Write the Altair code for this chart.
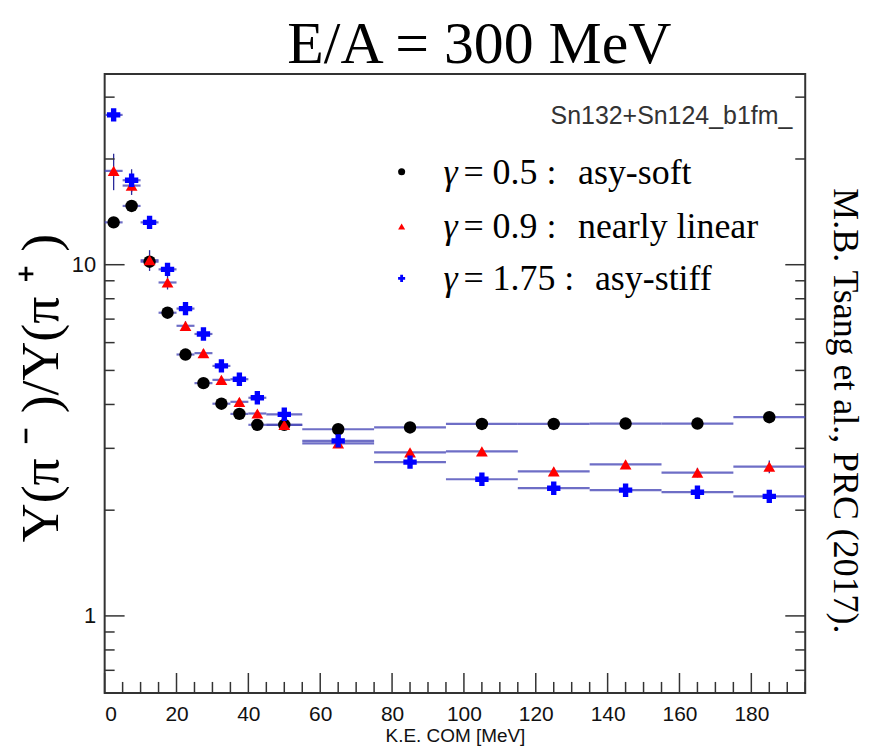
import altair as alt
import pandas as pd

# ---- data ----
bin_lo = [0, 5, 10, 15, 20, 25, 30, 35, 40, 45, 55, 75, 95, 115, 135, 155, 175]
bin_hi = [5, 10, 15, 20, 25, 30, 35, 40, 45, 55, 75, 95, 115, 135, 155, 175, 195]
ke = [2.5, 7.5, 12.5, 17.5, 22.5, 27.5, 32.5, 37.5, 42.5, 50, 65, 85, 105, 125, 145, 165, 185]

soft = [13.2, 14.7, 10.2, 7.3, 5.55, 4.6, 4.02, 3.76, 3.5, 3.5, 3.4, 3.44, 3.52, 3.52, 3.53, 3.53, 3.68]
linear = [18.5, 16.8, 10.3, 8.9, 6.7, 5.6, 4.7, 4.07, 3.77, 3.5, 3.1, 2.92, 2.94, 2.58, 2.7, 2.56, 2.66]
stiff = [26.7, 17.4, 13.2, 9.7, 7.5, 6.35, 5.15, 4.72, 4.18, 3.75, 3.15, 2.74, 2.45, 2.31, 2.28, 2.25, 2.19]

soft_err = [0.35, 0.4, 0.3, 0.2, 0.12, 0.1, 0.08, 0.07, 0.06, 0.05, 0.04, 0.04, 0.04, 0.05, 0.05, 0.05, 0.06]
linear_err = [2.2, 1.0, 0.7, 0.4, 0.2, 0.15, 0.12, 0.1, 0.08, 0.06, 0.05, 0.05, 0.06, 0.06, 0.07, 0.08, 0.11]
stiff_err = [0.6, 1.3, 0.4, 0.3, 0.2, 0.15, 0.12, 0.1, 0.08, 0.06, 0.05, 0.05, 0.04, 0.05, 0.05, 0.05, 0.06]

series_names = ["soft", "linear", "stiff"]
legend_gamma = ["=\u00a00.5\u00a0:", "=\u00a00.9\u00a0:", "=\u00a01.75\u00a0:"]
legend_desc = ["asy-soft", "nearly linear", "asy-stiff"]
header_text = "Sn132+Sn124_b1fm_"
title_text = "E/A = 300 MeV"
ylabel_text = "Y(\u03c0\u00a0\u207b\u00a0)/Y(\u03c0\u00a0\u207a\u00a0)"
xlabel_text = "K.E. COM [MeV]"
cite_text = "M.B. Tsang et al., PRC (2017)."

x_tick_labels = [0, 20, 40, 60, 80, 100, 120, 140, 160, 180]
y_tick_labels = [1, 10]
x_minor = list(range(0, 196, 5))
y_minor = [0.7, 0.8, 0.9, 2, 3, 4, 5, 6, 7, 8, 9, 20, 30]

colors = {"soft": "#000000", "linear": "#ff0000", "stiff": "#0000ff"}
shapes = {"soft": "circle", "linear": "triangle-up", "stiff": "cross"}
sizes = {"soft": 155, "linear": 140, "stiff": 180}

W, H = 703, 621

rows = []
for name, vals, errs in [("soft", soft, soft_err), ("linear", linear, linear_err), ("stiff", stiff, stiff_err)]:
    for lo, hi, k, v, e in zip(bin_lo, bin_hi, ke, vals, errs):
        rows.append(dict(series=name, lo=lo, hi=hi, ke=k, y=v, ylo=v - e, yhi=v + e))
df = pd.DataFrame(rows)

xscale = alt.Scale(domain=[0, 195], nice=False, zero=False)
yscale = alt.Scale(type="log", domain=[0.6036, 34.9], nice=False)

xaxis = alt.Axis(values=x_tick_labels, title=xlabel_text, ticks=False, domain=False, grid=False,
                 labelFont="Liberation Sans", labelFontSize=21, labelPadding=11,
                 titleFont="Liberation Sans", titleFontSize=19, titleFontWeight="normal",
                 titlePadding=2, labelColor="#111", titleColor="#111")
yaxis = alt.Axis(values=y_tick_labels, title=None, ticks=False, domain=False, grid=False,
                 labelFont="Liberation Sans", labelFontSize=22, labelPadding=9,
                 labelColor="#111", format="d")

base = alt.Chart(df)

hbars = base.mark_rule(color="#4a4ab8", opacity=0.8, strokeWidth=2.2).encode(
    x=alt.X("lo:Q", scale=xscale, axis=xaxis),
    x2="hi:Q",
    y=alt.Y("y:Q", scale=yscale, axis=yaxis),
)
vbars = base.mark_rule(color="#2a2a9a", strokeWidth=1.3).encode(
    x=alt.X("ke:Q", scale=xscale),
    y=alt.Y("ylo:Q", scale=yscale),
    y2="yhi:Q",
)

point_layers = []
for name in series_names:
    point_layers.append(
        alt.Chart(df[df.series == name]).mark_point(
            filled=True, opacity=1, shape=shapes[name], size=sizes[name], color=colors[name]
        ).encode(x=alt.X("ke:Q", scale=xscale), y=alt.Y("y:Q", scale=yscale))
    )

tick_col = "#333333"
xt = pd.DataFrame({"v": x_minor})
xt["major"] = xt["v"] % 20 == 0
xt_major = xt[xt.major]
xt_minor = xt[~xt.major]
yt_major = pd.DataFrame({"v": y_tick_labels})
yt_minor = pd.DataFrame({"v": y_minor})

def xticks(d, length):
    return alt.Chart(d).mark_rule(color=tick_col, strokeWidth=1.5).encode(
        x=alt.X("v:Q", scale=xscale), y=alt.value(H), y2=alt.value(H - length))

def yticks(d, length, right=False):
    if right:
        return alt.Chart(d).mark_rule(color=tick_col, strokeWidth=1.5).encode(
            y=alt.Y("v:Q", scale=yscale), x=alt.value(W), x2=alt.value(W - length))
    return alt.Chart(d).mark_rule(color=tick_col, strokeWidth=1.5).encode(
        y=alt.Y("v:Q", scale=yscale), x=alt.value(0), x2=alt.value(length))

tick_layers = [xticks(xt_major, 20), xticks(xt_minor, 11),
               yticks(yt_major, 20), yticks(yt_minor, 10),
               yticks(yt_major, 20, True), yticks(yt_minor, 10, True)]

def text_layer(t, x, y, size, font="Liberation Serif", align="left", angle=0, style="normal",
               baseline="alphabetic", color="#000"):
    kw = dict(font=font, fontSize=size, align=align, baseline=baseline, color=color, fontStyle=style)
    if angle:
        kw["angle"] = angle
    return alt.Chart(pd.DataFrame({"t": [t]})).mark_text(**kw).encode(
        text="t:N", x=alt.value(x), y=alt.value(y))

text_layers = [
    text_layer(title_text, 376, -11, 60, align="center"),
    text_layer(ylabel_text, -63, 315, 54, align="center", angle=270, baseline="middle"),
    text_layer(cite_text, 743, 338, 36, align="center", angle=90, baseline="middle"),
    text_layer(header_text, 690, 50, 25, font="Liberation Sans", align="right", color="#333"),
]

leg_y = [98, 153, 205]
desc_x = [475, 475, 492]
leg_layers = []
for i, name in enumerate(series_names):
    leg_layers.append(
        alt.Chart(pd.DataFrame({"t": [0]})).mark_point(
            filled=True, opacity=1, shape=shapes[name], size=50, color=colors[name]
        ).encode(x=alt.value(298), y=alt.value(leg_y[i]))
    )
    leg_layers.append(text_layer("\u03b3", 340, leg_y[i] + 12, 36, style="italic"))
    leg_layers.append(text_layer(legend_gamma[i], 360, leg_y[i] + 12, 36))
    leg_layers.append(text_layer(legend_desc[i], desc_x[i], leg_y[i] + 12, 36))

chart = alt.layer(hbars, vbars, *point_layers, *tick_layers, *text_layers, *leg_layers).properties(
    width=W, height=H,
    padding={"left": 97, "top": 65, "right": 62, "bottom": 58},
    autosize=alt.AutoSizeParams(type="none"),
    background="white",
).configure_view(stroke="#333333", strokeWidth=2)

chart.save("out.html", embed_options={"renderer": "svg", "actions": False})
